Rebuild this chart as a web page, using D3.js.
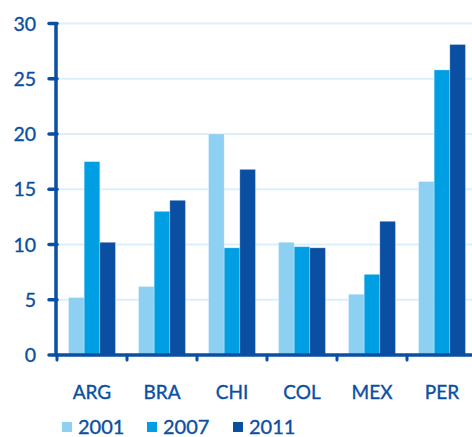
<!DOCTYPE html>
<html>
<head>
<meta charset="utf-8">
<script src="https://cdn.jsdelivr.net/npm/d3@7"></script>
<style>
  html, body { margin: 0; padding: 0; background: #fff; }
  svg { display: block; font-family: Lato, "Open Sans", sans-serif; }
  svg text { stroke: #0b4fa2; stroke-width: 0.35px; }
</style>
</head>
<body>
<svg id="chart" width="472" height="437"></svg>
<script>
// Country codes along the x axis
const categories = ["ARG", "BRA", "CHI", "COL", "MEX", "PER"];
// One series per year
const years = ["2001", "2007", "2011"];
const values2001 = [5.2, 6.2, 20.0, 10.2, 5.5, 15.7];
const values2007 = [17.5, 13.0, 9.7, 9.8, 7.3, 25.8];
const values2011 = [10.2, 14.0, 16.8, 9.7, 12.1, 28.1];
const yTicks = [0, 5, 10, 15, 20, 25, 30];

const seriesValues = { "2001": values2001, "2007": values2007, "2011": values2011 };
const colors = { "2001": "#8dd0f2", "2007": "#009fe3", "2011": "#0b4fa2" };
const textColor = "#0b4fa2";
const axisColor = "#0b4fa2";

const svg = d3.select("#chart");
const W = 472;
const left = 57, baseY = 355, topY = 23.5;

const y = d3.scaleLinear().domain([0, 30]).range([baseY, topY]);
const x0 = d3.scaleBand().domain(categories).range([left, 477])
  .paddingInner(0.33).paddingOuter(0.165);
const x1 = d3.scaleBand().domain(years).range([0, x0.bandwidth()]);
const step = x0.step();

// horizontal gridlines
svg.append("g").selectAll("line").data(yTicks.filter(t => t > 0)).join("line")
  .attr("x1", left).attr("x2", W)
  .attr("y1", d => y(d)).attr("y2", d => y(d))
  .attr("stroke", "#dcf0fb").attr("stroke-width", 2);

// bars
const rows = categories.map((c, i) => ({ c, vals: years.map(yr => ({ yr, v: seriesValues[yr][i] })) }));
svg.append("g").selectAll("g").data(rows).join("g")
  .attr("transform", d => `translate(${x0(d.c)},0)`)
  .selectAll("rect").data(d => d.vals).join("rect")
  .attr("x", d => x1(d.yr))
  .attr("width", x1.bandwidth())
  .attr("y", d => y(d.v))
  .attr("height", d => y(0) - y(d.v))
  .attr("fill", d => colors[d.yr])
  .attr("stroke", "rgba(255,255,255,0.35)")
  .attr("stroke-width", 0.8);

// y axis line and ticks
svg.append("line").attr("x1", left - 1).attr("x2", left - 1)
  .attr("y1", topY - 1).attr("y2", baseY)
  .attr("stroke", axisColor).attr("stroke-width", 3.5);
svg.append("g").selectAll("line").data(yTicks).join("line")
  .attr("x1", 49).attr("x2", left)
  .attr("y1", d => y(d)).attr("y2", d => y(d))
  .attr("stroke", axisColor).attr("stroke-width", 3.5).attr("stroke-linecap", "round");
svg.append("g").selectAll("text").data(yTicks).join("text")
  .attr("x", 36).attr("y", d => y(d))
  .attr("dy", "0.36em")
  .attr("text-anchor", "end")
  .attr("fill", textColor).attr("font-size", 19.5)
  .text(d => d);

// x axis baseline and category ticks
svg.append("line").attr("x1", left - 2).attr("x2", W)
  .attr("y1", baseY).attr("y2", baseY)
  .attr("stroke", axisColor).attr("stroke-width", 3.5);
svg.append("g").selectAll("line").data(categories).join("line")
  .attr("x1", d => x0(d) - step * 0.165).attr("x2", d => x0(d) - step * 0.165)
  .attr("y1", baseY).attr("y2", baseY + 5)
  .attr("stroke", axisColor).attr("stroke-width", 3).attr("stroke-linecap", "round");
svg.append("g").selectAll("text").data(categories).join("text")
  .attr("x", d => x0(d) + x0.bandwidth() / 2)
  .attr("y", 399)
  .attr("text-anchor", "middle")
  .attr("fill", textColor).attr("font-size", 19)
  .text(d => d);

// legend
const legendX = d3.scaleOrdinal().domain(years).range([62, 147, 233]);
const lg = svg.append("g").selectAll("g").data(years).join("g")
  .attr("transform", d => `translate(${legendX(d)},422)`);
lg.append("rect").attr("width", 10).attr("height", 10).attr("fill", d => colors[d]);
lg.append("text").attr("x", 16).attr("y", 12)
  .attr("fill", textColor).attr("font-size", 20)
  .text(d => d);
</script>
</body>
</html>
